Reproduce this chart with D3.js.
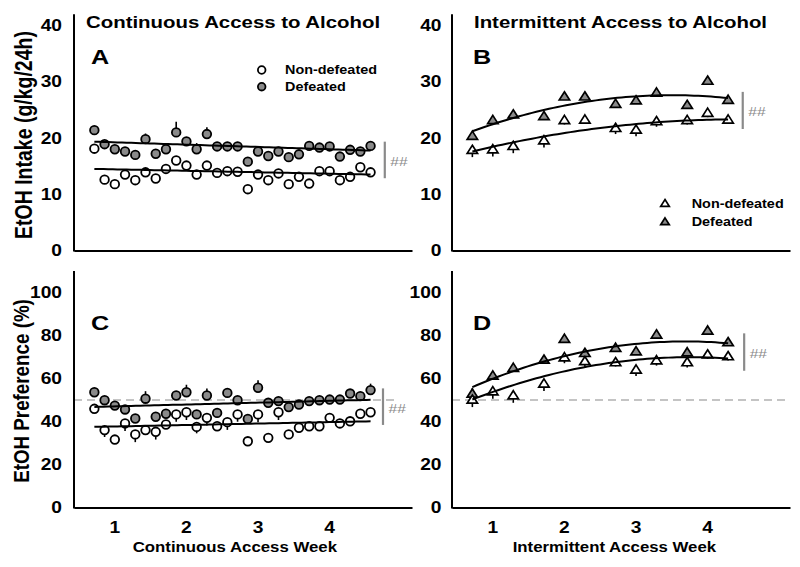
<!DOCTYPE html>
<html><head><meta charset="utf-8">
<script src="https://cdn.jsdelivr.net/npm/d3@7"></script>
<style>body{margin:0;background:#fff}svg{display:block}text{font-family:"Liberation Sans",Arial,sans-serif}</style>
</head><body><svg id="c" width="800" height="567"></svg>
<script>
// ---------- data ----------
const contDays = d3.range(1, 29);
const caIntakeNonDef = [18.1,12.6,11.8,13.5,12.5,13.9,12.8,14.5,16.0,15.1,13.5,15.1,13.8,14.1,14.0,10.9,13.5,12.5,13.7,11.8,13.1,11.9,14.1,14.1,12.5,13.1,14.8,13.9];
const caIntakeDef    = [21.4,18.9,18.0,17.6,17.0,19.8,17.2,18.0,21.0,19.4,18.0,20.7,18.5,18.5,18.5,15.8,17.6,16.8,17.6,16.6,17.1,18.6,18.3,18.5,16.7,17.9,17.6,18.6];
const caIntakeNonDefSem = [0.6,0.7,0.6,0.6,0.7,0.6,0.6,0.6,0.6,0.6,0.7,0.6,0.6,0.6,0.6,0.6,0.6,0.6,0.6,0.6,0.6,0.6,0.6,0.6,0.6,0.6,0.6,0.6];
const caIntakeDefSem    = [0.7,0.6,0.6,0.6,0.6,1.0,0.6,0.6,1.9,0.7,1.1,1.2,0.6,0.6,0.6,0.7,0.6,0.6,0.6,0.6,0.6,0.6,0.6,0.6,0.6,0.6,0.6,0.6];
const caPrefNonDef = [45.9,36.0,31.6,39.1,34.0,36.0,35.2,38.6,43.3,44.3,37.5,41.7,37.8,39.7,43.3,30.8,43.3,32.4,44.3,34.0,37.1,37.8,37.8,41.7,39.1,40.1,43.6,44.3];
const caPrefDef    = [53.6,49.9,47.4,45.6,41.4,50.6,42.2,43.6,52.1,53.6,43.3,52.1,44.0,53.3,49.9,41.2,55.7,48.7,49.5,46.7,47.9,49.5,49.9,50.2,50.2,53.0,51.8,54.6];
const caPrefNonDefSem = [2.0,3.2,2.0,3.5,3.6,2.0,3.6,2.0,3.4,3.6,3.0,3.6,2.0,3.6,3.4,2.0,3.6,2.0,3.6,2.0,2.0,2.0,2.0,2.0,2.0,2.0,2.0,2.0];
const caPrefDefSem    = [2.0,1.5,1.5,1.5,1.5,3.5,1.5,1.5,2.0,3.5,1.5,3.2,1.5,1.5,1.5,1.5,3.5,1.5,1.5,1.5,1.5,1.5,1.5,1.5,1.5,1.5,1.5,3.0];

const iaDays = [1,3,5,8,10,12,15,17,19,22,24,26];
const iaIntakeNonDef = [17.9,18.0,18.6,19.6,23.2,23.3,21.8,21.5,23.0,23.2,24.5,23.3];
const iaIntakeDef    = [20.4,23.2,24.2,23.9,27.4,27.4,26.1,26.7,28.1,25.9,30.2,26.8];
const iaIntakeNonDefSem = [1.3,1.3,1.3,1.3,0.8,0.8,1.1,1.2,1.0,0.8,0.8,0.8];
const iaIntakeDefSem    = [0.6,0.6,0.6,0.6,0.6,0.6,0.6,0.6,0.6,0.6,0.6,0.6];
const iaPrefNonDef = [50.2,54.1,52.2,57.7,69.9,68.1,67.6,64.2,68.5,67.6,71.2,70.4];
const iaPrefDef    = [53.0,61.4,65.0,68.8,78.5,71.9,74.3,72.7,80.5,72.2,82.3,76.9];
const iaPrefNonDefSem = [3.5,3.5,3.5,3.5,2.8,2.8,2.0,3.0,2.5,2.5,2.0,2.0];
const iaPrefDefSem    = [2.5,1.5,1.5,1.5,1.5,1.5,1.5,1.5,1.5,1.5,1.5,1.5];

// fitted trend coefficients in week units: [c0, c1, c2]
const fitCaIntakeNonDef = [14.69, -0.26, 0];
const fitCaIntakeDef    = [19.64, -0.41, 0];
const fitCaPrefNonDef   = [37.02, 0.674, 0];
const fitCaPrefDef      = [46.19, 0.856, 0];
const fitIaIntakeNonDef = [15.19, 3.677, -0.416];
const fitIaIntakeDef    = [17.49, 5.79, -0.828];
const fitIaPrefNonDef   = [39.86, 16.01, -2.133];
const fitIaPrefDef      = [44.60, 17.70, -2.40];

const weekTicks = [1,2,3,4];
const weekLabels = ["1","2","3","4"];
const intakeTicks = [0,10,20,30,40];
const prefTicks = [0,20,40,60,80,100];
const groups = ["Non-defeated","Defeated"];
const sig = ["##","##","##","##"];

// ---------- layout ----------
const SX = 1.2;
const GRAY = "#8a8a8a";
const svg = d3.select("#c");
const dayToWeek = d => (d + 4) / 7;

const xL = d3.scaleLinear().domain([0.43, 5.15]).range([74, 412]);
const xR = d3.scaleLinear().domain([0.43, 5.15]).range([452, 790]);
const yTop = d3.scaleLinear().domain([0, 42]).range([250.5, 14.25]);
const yBot = d3.scaleLinear().domain([0, 110]).range([507.5, 271]);

function stext(x, y, str, size, opts = {}) {
  return svg.append("text")
    .attr("transform", `translate(${x},${y}) scale(${SX},1)`)
    .attr("font-size", size)
    .attr("font-weight", opts.weight || "bold")
    .attr("text-anchor", opts.anchor || "start")
    .attr("fill", opts.fill || "#000")
    .text(str);
}

function triPath(cx, cy) {
  return `M${cx},${cy-4.6}L${cx+5.2},${cy+3.6}L${cx-5.2},${cy+3.6}Z`;
}

function axes(x, y, yTicks, showX, yPad) {
  const gy = svg.append("g").attr("transform", `translate(${x.range()[0]},0)`)
    .call(d3.axisLeft(y).tickValues(yTicks).tickSize(0).tickSizeOuter(0).tickPadding(0));
  gy.selectAll("text").attr("x", -yPad / SX).attr("transform", `scale(${SX},1)`)
    .attr("font-size", 16).attr("font-weight", "bold").attr("fill", "#000")
    .attr("font-family", '"Liberation Sans",Arial,sans-serif');
  const gx = svg.append("g").attr("transform", `translate(0,${y.range()[0]})`)
    .call(d3.axisBottom(x).tickValues(showX ? weekTicks : []).tickFormat((d, i) => weekLabels[i])
      .tickSize(0).tickSizeOuter(0).tickPadding(14));
  gx.selectAll("text").attr("transform", `scale(${SX},1)`).attr("x", d => 0)
    .attr("font-size", 16).attr("font-weight", "bold").attr("fill", "#000")
    .attr("font-family", '"Liberation Sans",Arial,sans-serif');
  gx.selectAll(".tick").attr("transform", d => `translate(${x(d)},0)`);
  [gx, gy].forEach(g => g.select(".domain").attr("stroke", "#000").attr("stroke-width", 2));
  // extend axis corner
  gy.select(".domain").attr("d", `M0,${y.range()[1]}V${y.range()[0] + 1}`);
}

function fitLine(x, y, coef, t0, t1) {
  const ts = d3.range(0, 61).map(i => t0 + (t1 - t0) * i / 60);
  svg.append("path")
    .attr("d", d3.line().x(t => x(t)).y(t => y(coef[0] + coef[1] * t + coef[2] * t * t))(ts))
    .attr("fill", "none").attr("stroke", "#000").attr("stroke-width", 2);
}

function series(x, y, days, vals, sem, dir, shape, fill) {
  const g = svg.append("g");
  g.selectAll("line").data(vals).join("line")
    .attr("x1", (v, i) => x(dayToWeek(days[i]))).attr("x2", (v, i) => x(dayToWeek(days[i])))
    .attr("y1", v => y(v)).attr("y2", (v, i) => y(v + dir * sem[i]))
    .attr("stroke", "#000").attr("stroke-width", 1.6);
  if (shape === "circle") {
    g.selectAll("circle").data(vals).join("circle")
      .attr("cx", (v, i) => x(dayToWeek(days[i]))).attr("cy", v => y(v)).attr("r", 4.3)
      .attr("fill", fill).attr("stroke", "#000").attr("stroke-width", 1.8);
  } else {
    g.selectAll("path").data(vals).join("path")
      .attr("d", (v, i) => triPath(x(dayToWeek(days[i])), y(v)))
      .attr("fill", fill).attr("stroke", "#000").attr("stroke-width", 1.7).attr("stroke-linejoin", "miter");
  }
}

function sigBar(x, y, t, v0, v1, label) {
  const xx = x(t);
  svg.append("line").attr("x1", xx).attr("x2", xx).attr("y1", y(v0)).attr("y2", y(v1))
    .attr("stroke", GRAY).attr("stroke-width", 2.2);
  stext(xx + 5.5, (y(v0) + y(v1)) / 2 + 6, label, 13, {weight: "normal", fill: GRAY});
}

function dashed(x, y, t1) {
  svg.append("line").attr("x1", x.range()[0]).attr("x2", x(t1)).attr("y1", y(50)).attr("y2", y(50))
    .attr("stroke", "#c4c4c4").attr("stroke-width", 2).attr("stroke-dasharray", "8,5");
}

// dashed 50% references
dashed(xL, yBot, 4.9);
dashed(xR, yBot, 5.15);

// axes
axes(xL, yTop, intakeTicks, false, 12);
axes(xR, yTop, intakeTicks, false, 10.5);
axes(xL, yBot, prefTicks, true, 12);
axes(xR, yBot, prefTicks, true, 10.5);

const tCa0 = dayToWeek(contDays[0]), tCa1 = dayToWeek(contDays[contDays.length - 1]);
const tIa0 = dayToWeek(iaDays[0]), tIa1 = dayToWeek(iaDays[iaDays.length - 1]);

// Panel A
series(xL, yTop, contDays, caIntakeDef, caIntakeDefSem, 1, "circle", GRAY);
series(xL, yTop, contDays, caIntakeNonDef, caIntakeNonDefSem, -1, "circle", "#fff");
fitLine(xL, yTop, fitCaIntakeDef, tCa0, tCa1);
fitLine(xL, yTop, fitCaIntakeNonDef, tCa0, tCa1);

// Panel B
series(xR, yTop, iaDays, iaIntakeDef, iaIntakeDefSem, 1, "tri", GRAY);
series(xR, yTop, iaDays, iaIntakeNonDef, iaIntakeNonDefSem, -1, "tri", "#fff");
fitLine(xR, yTop, fitIaIntakeDef, tIa0, tIa1);
fitLine(xR, yTop, fitIaIntakeNonDef, tIa0, tIa1);

// Panel C
series(xL, yBot, contDays, caPrefDef, caPrefDefSem, 1, "circle", GRAY);
series(xL, yBot, contDays, caPrefNonDef, caPrefNonDefSem, -1, "circle", "#fff");
fitLine(xL, yBot, fitCaPrefDef, tCa0, tCa1);
fitLine(xL, yBot, fitCaPrefNonDef, tCa0, tCa1);

// Panel D
series(xR, yBot, iaDays, iaPrefDef, iaPrefDefSem, 1, "tri", GRAY);
series(xR, yBot, iaDays, iaPrefNonDef, iaPrefNonDefSem, -1, "tri", "#fff");
fitLine(xR, yBot, fitIaPrefDef, tIa0, tIa1);
fitLine(xR, yBot, fitIaPrefNonDef, tIa0, tIa1);

// significance bars
sigBar(xL, yTop, 4.77, 19.35, 12.85, sig[0]);
sigBar(xR, yTop, 4.49, 28.2, 21.6, sig[1]);
sigBar(xL, yBot, 4.745, 55.4, 38.4, sig[2]);
sigBar(xR, yBot, 4.51, 81.0, 63.6, sig[3]);

// titles
stext(86, 28, "Continuous Access to Alcohol", 17);
stext(474, 28, "Intermittent Access to Alcohol", 17);
stext(91, 64, "A", 21);
stext(473, 64, "B", 21);
stext(91, 330, "C", 21);
stext(473, 330, "D", 21);
stext(132.7, 551.7, "Continuous Access Week", 14);
stext(512.7, 551.7, "Intermittent Access Week", 14);

// y-axis titles (rotated, stretched across)
svg.append("text").attr("transform", "translate(32,135) rotate(-90) scale(1,1.2)")
  .attr("font-size", 19.5).attr("font-weight", "bold").attr("text-anchor", "middle").text("EtOH Intake (g/kg/24h)");
svg.append("text").attr("transform", "translate(29,391) rotate(-90) scale(1,1.2)")
  .attr("font-size", 18.8).attr("font-weight", "bold").attr("text-anchor", "middle").text("EtOH Preference (%)");

// legends
const legA = [[70, "#fff"], [86.7, GRAY]];
legA.forEach(([ly, f], i) => {
  svg.append("circle").attr("cx", 261.7).attr("cy", ly).attr("r", 3.8).attr("fill", f)
    .attr("stroke", "#000").attr("stroke-width", 1.8);
  stext(285, ly + 4.3, groups[i], 12);
});
const legB = [[203.3, "#fff"], [221.7, GRAY]];
legB.forEach(([ly, f], i) => {
  svg.append("path").attr("d", `M665,${ly-3.8}L669.3,${ly+3}L660.7,${ly+3}Z`).attr("fill", f)
    .attr("stroke", "#000").attr("stroke-width", 1.7);
  stext(691.7, ly + 4.7, groups[i], 12);
});
</script></body></html>
